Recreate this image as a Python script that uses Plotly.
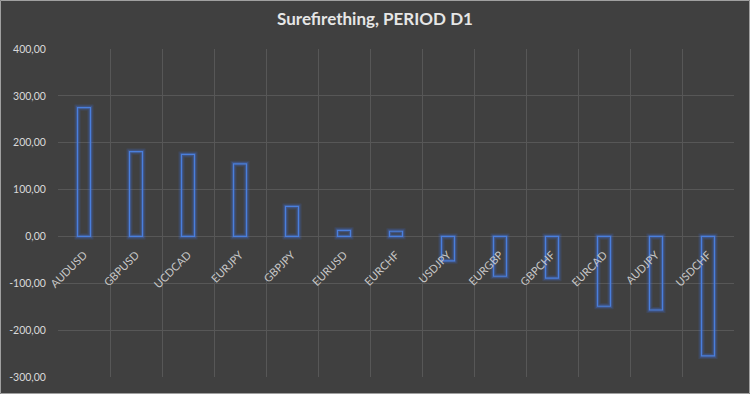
import plotly.graph_objects as go

categories = ["AUDUSD", "GBPUSD", "UCDCAD", "EURJPY", "GBPJPY", "EURUSD", "EURCHF",
              "USDJPY", "EURGBP", "GBPCHF", "EURCAD", "AUDJPY", "USDCHF"]
values = [275, 181, 175, 155, 64, 13, 11, -52, -85, -89, -149, -157, -255]
y_tick_values = [-300, -200, -100, 0, 100, 200, 300, 400]
y_tick_labels = ["-300,00", "-200,00", "-100,00", "0,00", "100,00", "200,00", "300,00", "400,00"]
title_text = "Surefirething, PERIOD D1"

W, H = 750, 394
ML, MR, MT, MB = 58, 16, 49, 17
PW, PH = W - ML - MR, H - MT - MB
ymin, ymax = y_tick_values[0], y_tick_values[-1]

BG = "#404040"
GRID = "#575757"
BLUE = "#4a7fdc"

fig = go.Figure()
# glow
fig.add_trace(go.Bar(
    x=categories, y=values, width=0.25,
    marker=dict(color="rgba(0,0,0,0)", line=dict(color="rgba(60,110,230,0.16)", width=6)),
    hoverinfo="skip", showlegend=False))
fig.add_trace(go.Bar(
    x=categories, y=values, width=0.25,
    marker=dict(color="rgba(0,0,0,0)", line=dict(color="rgba(70,120,235,0.28)", width=3.5)),
    hoverinfo="skip", showlegend=False))
fig.add_trace(go.Bar(
    x=categories, y=values, width=0.25,
    marker=dict(color="rgba(0,0,0,0)", line=dict(color=BLUE, width=1.2)),
    showlegend=False))

fig.update_layout(
    width=W, height=H,
    margin=dict(l=ML, r=MR, t=MT, b=MB, autoexpand=False),
    paper_bgcolor=BG, plot_bgcolor=BG,
    barmode="overlay",
    separators=",.",
    title=dict(text="<b>" + title_text + "</b>", x=0.5, xanchor="center", y=1 - 19 / H, yanchor="middle",
               automargin=False,
               font=dict(family="Lato", size=17, color="#e6e6e6")),
    font=dict(family="Lato", color="#d9d9d9"),
)
fig.update_xaxes(
    type="category", tickson="boundaries", showgrid=True, gridcolor=GRID, gridwidth=1,
    ticks="", ticklabelstandoff=9, tickangle=-45,
    tickfont=dict(size=11, color="#c8c8c8"),
    anchor="free", position=(0 - ymin) / (ymax - ymin), automargin=False,
    showline=False, zeroline=False, range=[-0.5, len(categories) - 0.5],
)
fig.update_yaxes(
    range=[ymin, ymax], tickvals=y_tick_values, ticktext=y_tick_labels, automargin=False,
    showgrid=True, gridcolor=GRID, gridwidth=1, zeroline=True, zerolinecolor=GRID, zerolinewidth=1,
    ticks="outside", ticklen=9, tickcolor="rgba(0,0,0,0)", tickfont=dict(size=10.5, color="#d9d9d9"),
)
# outer figure border
fig.add_shape(type="rect", xref="paper", yref="paper",
              x0=-(ML - 0.5) / PW, x1=1 + (MR - 0.5) / PW,
              y0=-(MB - 0.5) / PH, y1=1 + (MT - 0.5) / PH,
              line=dict(color="#a0a0a0", width=1), layer="below")

fig.write_html("out.html", config={"displayModeBar": False},
               post_script="document.body.style.margin='0';document.body.style.padding='0';"
                           "document.body.style.background='#404040';")
